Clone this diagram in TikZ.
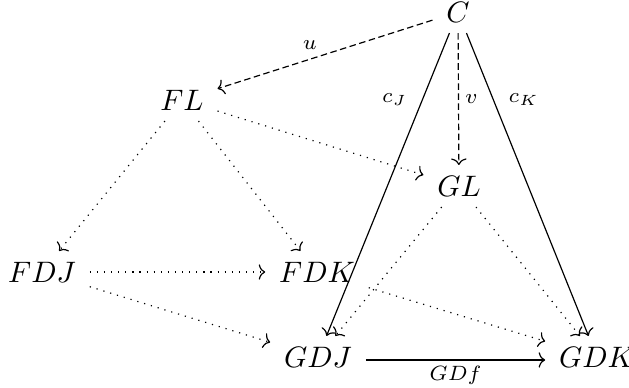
\documentclass[tikz,border=0pt]{standalone}
\usetikzlibrary{arrows.meta}
\begin{document}
\begin{tikzpicture}[x=0.338pt,y=-0.338pt,
  obj/.style={inner xsep=4.5pt, inner ysep=3.5pt},
  arr/.style={-{Computer Modern Rightarrow[length=2.2pt,width=5.2pt]}},
  dotarr/.style={arr, dotted},
  dasharr/.style={arr, dash pattern=on 2.2pt off 1.2pt},
  lab/.style={font=\scriptsize, inner sep=2pt}]
\useasboundingbox (0,0) rectangle (629,387);
\node[obj] (C) at (458,12) {$C$};
\node[obj] (FL) at (182,100) {$FL$};
\node[obj] (GL) at (459,186) {$GL$};
\node[obj] (FDJ) at (42,272) {$FDJ$};
\node[obj] (FDK) at (317,272) {$FDK$};
\node[obj] (GDJ) at (318,357) {$GDJ$};
\node[obj] (GDK) at (597,357) {$GDK$};
\draw[dasharr] (C) -- node[lab, above, pos=0.57, yshift=1pt] {$u$} (FL);
\draw[dasharr] (C) -- node[lab, right, pos=0.5] {$v$} (GL);
\draw[arr] (C) -- node[lab, left, pos=0.22, xshift=-3pt] {$c_J$} (GDJ);
\draw[arr] (C) -- node[lab, right, pos=0.22, xshift=3pt] {$c_K$} (GDK);
\draw[dotarr] (FL) -- (FDJ);
\draw[dotarr] (FL) -- (FDK);
\draw[dotarr] (FL) -- (GL);
\draw[dotarr] (FDJ) -- (FDK);
\draw[dotarr] (FDJ) -- (GDJ);
\draw[dotarr] (GL) -- (GDJ);
\draw[dotarr] (GL) -- (GDK);
\draw[dotarr] (FDK) -- (GDK);
\draw[arr] ([yshift=-1pt]GDJ.east) -- node[lab, below] {$GDf$} ([yshift=-1pt]GDK.west);
\end{tikzpicture}
\end{document}
